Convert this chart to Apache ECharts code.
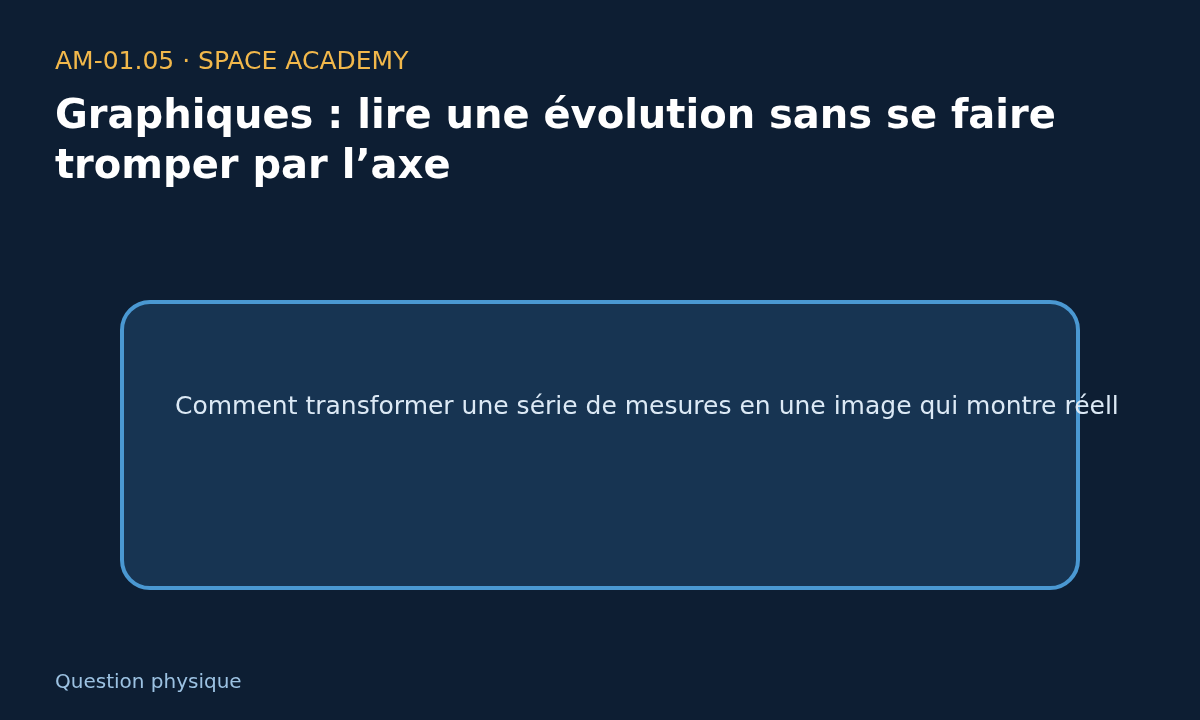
<!DOCTYPE html>
<html>
<head>
    <meta charset="utf-8">
    <title>Space Academy</title>
    <style>
        html, body { margin: 0; padding: 0; background: #0d1e33; }
        #slide { width: 1200px; height: 720px; }
    </style>
</head>
<body>
    <div id="slide"></div>
    <script src="https://cdn.jsdelivr.net/npm/echarts@6/dist/echarts.min.js"></script>
    <script type="text/javascript">

    // slide texts
    var kicker = 'AM-01.05 · SPACE ACADEMY';
    var titleLines = ['Graphiques : lire une évolution sans se faire', 'tromper par l’axe'];
    var question = 'Comment transformer une série de mesures en une image qui montre réell';
    var footer = 'Question physique';

    var font = 'DejaVu Sans';

    var myChart = echarts.init(document.getElementById('slide'), null, {renderer: 'canvas'});

    myChart.setOption({
        backgroundColor: '#0d1e33',
        animation: false,
        graphic: [
            {
                type: 'text',
                left: 55, top: 50,
                style: { text: kicker, fill: '#f2b84b', font: '25px "' + font + '"' }
            },
            {
                type: 'text',
                left: 55, top: 93,
                style: {
                    text: titleLines.join('\n'),
                    fill: '#ffffff',
                    font: 'bold 40px "' + font + '"',
                    lineHeight: 50
                }
            },
            {
                type: 'rect',
                shape: { x: 122, y: 302, width: 956, height: 286, r: 28 },
                style: { fill: '#173452', stroke: '#4a98d2', lineWidth: 4 }
            },
            {
                type: 'text',
                left: 175, top: 395,
                style: { text: question, fill: '#dce9f5', font: '25px "' + font + '"' }
            },
            {
                type: 'text',
                left: 55, top: 673,
                style: { text: footer, fill: '#9cc2e2', font: '20px "' + font + '"' }
            }
        ]
    });

    </script>
</body>
</html>
